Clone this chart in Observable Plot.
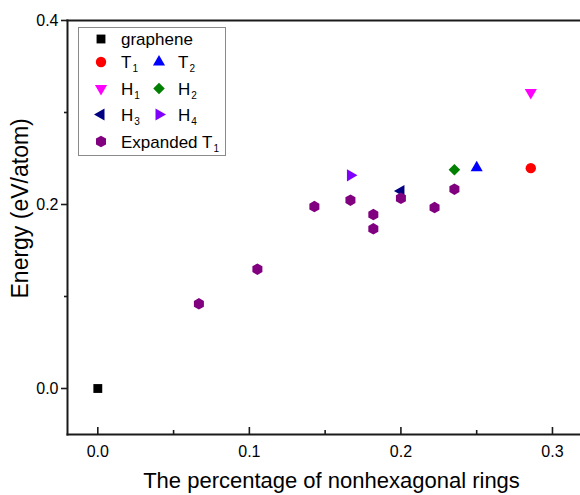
<!DOCTYPE html>
<html><head><meta charset="utf-8">
<script src="https://cdn.jsdelivr.net/npm/d3@7"></script>
<script src="https://cdn.jsdelivr.net/npm/@observablehq/plot@0.6"></script>
<style>
html,body{margin:0;padding:0;background:#fff;overflow:hidden;}
#wrap{position:relative;width:580px;height:495px;}
</style></head><body><div id="wrap"></div>
<script>
// ---- data ----
const grapheneX = [0],      grapheneY = [0];
const t1X = [0.2857],       t1Y = [0.2395];
const t2X = [0.25],         t2Y = [0.2400];
const h1X = [0.2857],       h1Y = [0.3218];
const h2X = [0.2353],       h2Y = [0.2378];
const h3X = [0.2],          h3Y = [0.2147];
const h4X = [0.1667],       h4Y = [0.2317];
const expandedX = [0.0667, 0.1053, 0.1429, 0.1667, 0.1818, 0.1818, 0.2, 0.2222, 0.2353];
const expandedY = [0.0921, 0.1297, 0.1978, 0.2047, 0.1891, 0.1736, 0.2068, 0.1967, 0.2166];
const seriesNames = ["graphene", "T1", "T2", "H1", "H2", "H3", "H4", "Expanded T1"];
const xMajorTicks = [0, 0.1, 0.2, 0.3], xMinorTicks = [0.05, 0.15, 0.25];
const yMajorTicks = [0, 0.2, 0.4],      yMinorTicks = [0.1, 0.3];
const xTitle = "The percentage of nonhexagonal rings";
const yTitle = "Energy (eV/atom)";

// ---- styles ----
function triangleSym(deg) {
  const t = deg * Math.PI / 180, c = Math.cos(t), s = Math.sin(t);
  return {draw(ctx, size) {
    const a = Math.sqrt(size / (3 * Math.sqrt(3)));
    const pts = [[0, -2 * a], [Math.sqrt(3) * a, a], [-Math.sqrt(3) * a, a]];
    pts.forEach(([x, y], i) => { const X = x * c - y * s, Y = x * s + y * c; i ? ctx.lineTo(X, Y) : ctx.moveTo(X, Y); });
    ctx.closePath();
  }};
}
const styles = {
  "graphene":    {fill: "#000000", symbol: "square",          r: 5},
  "T1":          {fill: "#ff0000", symbol: "circle",          r: 5.2},
  "T2":          {fill: "#0000ff", symbol: triangleSym(0),    r: 4.5},
  "H1":          {fill: "#ff00ff", symbol: triangleSym(180),  r: 4.5},
  "H2":          {fill: "#008000", symbol: "diamond2",        r: 5.2},
  "H3":          {fill: "#000080", symbol: triangleSym(-90),  r: 4.5},
  "H4":          {fill: "#8000ff", symbol: triangleSym(90),   r: 4.5},
  "Expanded T1": {fill: "#800080", symbol: "hexagon",         r: 5}
};
const seriesData = {
  "graphene": [grapheneX, grapheneY], "T1": [t1X, t1Y], "T2": [t2X, t2Y],
  "H1": [h1X, h1Y], "H2": [h2X, h2Y], "H3": [h3X, h3Y], "H4": [h4X, h4Y],
  "Expanded T1": [expandedX, expandedY]
};
const rows = name => seriesData[name][0].map((x, i) => ({x, y: seriesData[name][1][i]}));

const font = "'Liberation Sans', Arial, Helvetica, sans-serif";
const axisColor = "#1a1a1a";
const frameH = 495 - 20 - 61;

const chart = Plot.plot({
  width: 580, height: 495,
  marginLeft: 67, marginRight: 0, marginTop: 20, marginBottom: 61,
  x: {domain: [-0.02, 0.3185], axis: null},
  y: {domain: [-0.05, 0.4], axis: null},
  style: {fontFamily: font, fontSize: "16px", color: "#000", background: "transparent", overflow: "visible"},
  marks: [
    Plot.axisX(xMajorTicks, {tickSize: 0, tickPadding: 11, tickFormat: d3.format(".1f"), label: null}),
    Plot.ruleX(xMajorTicks, {insetTop: frameH - 7, stroke: axisColor, strokeWidth: 1.6}),
    Plot.ruleX(xMinorTicks, {insetTop: frameH - 4, stroke: axisColor, strokeWidth: 1.6}),
    Plot.axisY(yMajorTicks, {tickSize: 6, tickPadding: 3, tickFormat: d3.format(".1f"), label: null, stroke: axisColor, strokeWidth: 1.6}),
    Plot.axisY(yMinorTicks, {tickSize: 3, tickPadding: 3, tickFormat: () => "", label: null, stroke: axisColor, strokeWidth: 1.6}),
    Plot.frame({anchor: "left", stroke: axisColor, strokeWidth: 2}),
    Plot.frame({anchor: "bottom", stroke: axisColor, strokeWidth: 2}),
    Plot.frame({anchor: "top", stroke: axisColor, strokeWidth: 2}),
    Plot.text([xTitle], {frameAnchor: "bottom", dx: 7.5, dy: 53, fontSize: 22, lineAnchor: "bottom", fill: "#000"}),
    Plot.text([yTitle], {frameAnchor: "left", rotate: -90, dx: -40, dy: 71, fontSize: 23, textAnchor: "start", lineAnchor: "bottom", fill: "#000"}),
    ...seriesNames.map(name => Plot.dot(rows(name), {
      x: "x", y: "y", symbol: styles[name].symbol, r: styles[name].r,
      fill: styles[name].fill, stroke: "none"
    }))
  ]
});
const wrap = document.getElementById("wrap");
wrap.appendChild(chart);

// ---- legend ----
const leg = d3.select(wrap).append("svg")
  .attr("width", 580).attr("height", 495)
  .style("position", "absolute").style("left", "0px").style("top", "0px")
  .style("font-family", font);
leg.append("rect").attr("x", 78.5).attr("y", 27.5).attr("width", 147).attr("height", 128)
  .attr("fill", "white").attr("stroke", "#8a8a8a").attr("stroke-width", 1);
const legendLayout = {
  "graphene": [0, 0], "T1": [0, 1], "T2": [1, 1], "H1": [0, 2], "H2": [1, 2],
  "H3": [0, 3], "H4": [1, 3], "Expanded T1": [0, 4]
};
const rowY = [39, 62, 88.5, 114.5, 141.5], symX = [101, 159], textX = [121, 178];
const symbolMap = {square: d3.symbolSquare, circle: d3.symbolCircle, diamond2: d3.symbolDiamond2};
function symPath(sym, r) {
  let type = typeof sym === "string" ? symbolMap[sym] : sym;
  if (sym === "hexagon") {
    type = {draw(ctx, size) {
      const rx = Math.sqrt(size / Math.PI), ry = rx * Math.sqrt(4 / 3), hy = ry / 2;
      ctx.moveTo(0, ry); ctx.lineTo(rx, hy); ctx.lineTo(rx, -hy); ctx.lineTo(0, -ry);
      ctx.lineTo(-rx, -hy); ctx.lineTo(-rx, hy); ctx.closePath();
    }};
  }
  return d3.symbol(type, Math.PI * r * r)();
}
seriesNames.forEach(name => {
  const [col, row] = legendLayout[name];
  const st = styles[name];
  leg.append("path").attr("d", symPath(st.symbol, st.r))
    .attr("transform", `translate(${symX[col]},${rowY[row]})`).attr("fill", st.fill);
  const m = name.match(/^(.*?)(\d)$/);
  const t = leg.append("text").attr("x", textX[col]).attr("y", rowY[row] + 6)
    .attr("font-size", 17).attr("fill", "#000");
  if (m) {
    t.append("tspan").text(m[1]);
    t.append("tspan").attr("font-size", 10).attr("dx", 1).attr("dy", 4).text(m[2]);
  } else {
    t.text(name);
  }
});
</script>
</body></html>
